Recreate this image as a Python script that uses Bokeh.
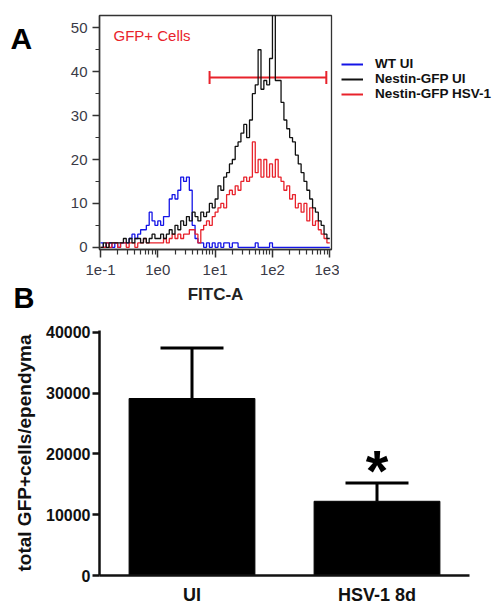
import numpy as np
from bokeh.plotting import figure
from bokeh.layouts import column, row
from bokeh.models import (FixedTicker, Legend, LegendItem, Label, Whisker, TeeHead,
                          ColumnDataSource, Range1d, FactorRange)
from bokeh.core.properties import value
from bokeh.embed import file_html
from bokeh.resources import INLINE

# ---------------- Panel A data: FITC-A histograms (log bins of 0.05 decade from 1e-1) ----------------
LOG_START = -1.0
BIN_WIDTH = 0.05
wt_ui = [1, 0, 1, 1, 0, 1, 0, 1, 1, 1, 2, 3, 2, 3, 4, 4, 5, 8, 6, 5,
         6, 5, 7, 7, 11, 12, 11, 13, 16, 15, 16, 13, 5, 2, 1, 1, 0, 1, 0, 1,
         0, 1, 0, 1, 1, 0, 1, 1, 0, 0, 0, 0, 0, 0, 1, 0, 0, 0, 0, 1,
         0, 0, 0, 0, 0, 0, 0, 0, 0, 0, 0, 0, 0, 0, 0, 0, 0, 0, 0, 0]
nestin_ui = [0, 1, 0, 1, 1, 1, 1, 1, 2, 1, 2, 1, 2, 2, 1, 2, 1, 2, 3, 2,
             2, 3, 2, 3, 4, 3, 5, 4, 6, 5, 7, 6, 8, 7, 6, 8, 7, 8, 10, 9,
             11, 14, 13, 16, 17, 19, 20, 23, 24, 26, 28, 25, 29, 35, 37, 45, 36, 38, 37, 43,
             53, 38, 38, 33, 29, 27, 25, 24, 21, 19, 17, 15, 13, 11, 9, 8, 6, 5, 3, 2]
nestin_hsv = [0, 0, 1, 0, 1, 1, 0, 1, 1, 0, 1, 1, 0, 1, 1, 2, 1, 1, 1, 1,
              1, 1, 2, 1, 2, 3, 2, 3, 2, 3, 3, 4, 4, 3, 1, 4, 5, 6, 5, 7,
              8, 9, 10, 9, 12, 13, 12, 14, 13, 15, 16, 15, 16, 24, 17, 20, 16, 20, 16, 19,
              16, 20, 16, 15, 13, 14, 11, 12, 9, 10, 8, 10, 6, 9, 5, 6, 4, 3, 2, 1]
series_names = ["WT UI", "Nestin-GFP UI", "Nestin-GFP HSV-1"]
series_colors = ["#1414e6", "#111111", "#e8222b"]
x_tick_values = [0.1, 1, 10, 100, 1000]
x_tick_labels = ["1e-1", "1e0", "1e1", "1e2", "1e3"]
y_tick_values_a = [0, 10, 20, 30, 40, 50]
gate_label = "GFP+ Cells"
gate_low, gate_high, gate_y = 8.0, 870.0, 38.7

# ---------------- Panel B data ----------------
groups = ["UI", "HSV-1 8d"]
gfp_cells = [29100, 12200]
gfp_err_top = [37400, 15200]
y_tick_values_b = [0, 10000, 20000, 30000, 40000]
star_y = 17200

FONT = "Liberation Sans"
AXIS_GRAY = "#3a3a46"
TOP_H = 315
BOTTOM_H = 612 - TOP_H


def blank(width, height):
    f = figure(width=width, height=height, output_backend="svg", toolbar_location=None,
               x_range=Range1d(0, 1), y_range=Range1d(0, 1), min_border=0,
               frame_align=False)
    f.axis.visible = False
    f.grid.visible = False
    f.outline_line_color = None
    return f


# ================= strip with panel letters =================
fa = blank(40, TOP_H)
fa.add_layout(Label(x=10, y=TOP_H - 38, x_units="screen", y_units="screen", text="A",
                    text_baseline="alphabetic", text_color="black", text_font=FONT,
                    text_font_size="30px", text_font_style="bold"))
fa.add_layout(Label(x=13, y=TOP_H - 297, x_units="screen", y_units="screen", text="B",
                    text_baseline="alphabetic", text_color="black", text_font=FONT,
                    text_font_size="29px", text_font_style="bold"))

# ================= Panel A =================
pa = figure(width=299, height=TOP_H, output_backend="svg", toolbar_location=None,
            x_axis_type="log", x_range=Range1d(10 ** -1.017, 10 ** 3.03),
            y_range=Range1d(-0.5, 52.8), frame_align=False,
            min_border_left=59, min_border_right=8, min_border_top=15,
            min_border_bottom=TOP_H - 249)
pa.xgrid.visible = False
pa.ygrid.visible = False
pa.outline_line_color = "#333333"
pa.outline_line_width = 1.3

n_bins = len(wt_ui)
edges = 10 ** (LOG_START + BIN_WIDTH * np.arange(n_bins + 1))
for vals, col in zip([wt_ui, nestin_hsv, nestin_ui], [series_colors[0], series_colors[2], series_colors[1]]):
    ys = list(vals) + [vals[-1]]
    pa.step(x=edges, y=ys, mode="after", line_color=col, line_width=1.3)

gate_src = ColumnDataSource(dict(base=[gate_y], lower=[gate_low], upper=[gate_high]))
pa.add_layout(Whisker(source=gate_src, base="base", lower="lower", upper="upper",
                      dimension="width", line_color=series_colors[2], line_width=2,
                      lower_head=TeeHead(size=13, line_color=series_colors[2], line_width=2),
                      upper_head=TeeHead(size=13, line_color=series_colors[2], line_width=2)))

pa.add_layout(Label(x=14, y=206, x_units="screen", y_units="screen", text=gate_label,
                    text_color=series_colors[2], text_font=FONT, text_font_size="15px"))

xa = pa.xaxis[0]
xa.ticker = FixedTicker(ticks=x_tick_values,
                        minor_ticks=[m * 10.0 ** d for d in range(-1, 3) for m in range(2, 10)])
xa.major_label_overrides = {v: l for v, l in zip(x_tick_values, x_tick_labels)}
xa.axis_label = "FITC-A"
xa.axis_label_text_font = FONT
xa.axis_label_text_font_style = "bold"
xa.axis_label_text_font_size = "17px"
xa.axis_label_text_color = "#222222"
xa.axis_label_standoff = 7
xa.major_label_text_font = FONT
xa.major_label_text_font_size = "15px"
xa.major_label_text_color = AXIS_GRAY
xa.major_label_standoff = 7
xa.major_tick_out = 8
xa.major_tick_in = 0
xa.minor_tick_out = 5
xa.minor_tick_in = 0
xa.axis_line_color = "#333333"
xa.major_tick_line_color = "#333333"
xa.minor_tick_line_color = "#333333"
xa.axis_line_width = 1.5
xa.major_tick_line_width = 1.5
xa.minor_tick_line_width = 1.2

ya = pa.yaxis[0]
ya.ticker = FixedTicker(ticks=y_tick_values_a, minor_ticks=[5, 15, 25, 35, 45])
ya.major_label_text_font = FONT
ya.major_label_text_font_size = "15px"
ya.major_label_text_color = AXIS_GRAY
ya.major_label_standoff = 5
ya.major_tick_out = 7
ya.major_tick_in = 0
ya.minor_tick_out = 4
ya.minor_tick_in = 0
ya.axis_line_color = "#333333"
ya.major_tick_line_color = "#333333"
ya.minor_tick_line_color = "#333333"
ya.axis_line_width = 1.5
ya.major_tick_line_width = 1.5
ya.minor_tick_line_width = 1.2

# ================= legend strip =================
fl = blank(157, TOP_H)
leg_items = []
for name, col in zip(series_names, series_colors):
    r = fl.line(x=[np.nan, np.nan], y=[np.nan, np.nan], line_color=col, line_width=2)
    leg_items.append(LegendItem(label=name, renderers=[r]))
legend = Legend(items=leg_items, location=(2, TOP_H - 101), orientation="vertical",
                label_text_font=FONT, label_text_font_style="bold",
                label_text_font_size="13.5px", label_text_color="#111111",
                label_height=14, glyph_height=14, glyph_width=22, label_standoff=12,
                spacing=0, padding=0, margin=0,
                border_line_alpha=0, background_fill_alpha=0)
fl.add_layout(legend)

# ================= Panel B =================
pb = figure(width=496, height=BOTTOM_H, output_backend="svg", toolbar_location=None,
            x_range=FactorRange(factors=groups, range_padding=0),
            y_range=Range1d(0, 40280), frame_align=False,
            min_border_left=99, min_border_right=27, min_border_top=330 - TOP_H,
            min_border_bottom=37)
pb.xgrid.visible = False
pb.ygrid.visible = False
pb.outline_line_color = None

src_b = ColumnDataSource(dict(g=groups, v=gfp_cells, hi=gfp_err_top))
pb.vbar(x="g", top="v", width=0.68, source=src_b, fill_color="black", line_color="black")
pb.add_layout(Whisker(source=src_b, base="g", lower="v", upper="hi", dimension="height",
                      line_color="black", line_width=3, lower_head=None,
                      upper_head=TeeHead(size=63, line_color="black", line_width=3)))
pb.text(x=[groups[1]], y=[star_y], text=["*"], text_align="center", text_baseline="alphabetic",
        text_font=value(FONT), text_font_style="bold", text_font_size="58px", text_color="black")

xb = pb.xaxis[0]
xb.major_tick_line_color = None
xb.minor_tick_line_color = None
xb.axis_line_width = 2.5
xb.axis_line_color = "#111111"
xb.major_label_text_font = FONT
xb.major_label_text_font_style = "bold"
xb.major_label_text_font_size = "18px"
xb.major_label_text_color = "#111111"
xb.major_label_standoff = 3

yb = pb.yaxis[0]
yb.ticker = FixedTicker(ticks=y_tick_values_b)
yb.minor_tick_line_color = None
yb.major_tick_out = 7
yb.major_tick_in = 0
yb.major_tick_line_width = 2.5
yb.axis_line_width = 2.5
yb.axis_line_color = "#111111"
yb.major_tick_line_color = "#111111"
yb.major_label_text_font = FONT
yb.major_label_text_font_style = "bold"
yb.major_label_text_font_size = "16px"
yb.major_label_text_color = "#111111"
yb.major_label_standoff = 2
yb.axis_label = "total GFP+cells/ependyma"
yb.axis_label_text_font = FONT
yb.axis_label_text_font_style = "bold"
yb.axis_label_text_font_size = "19px"
yb.axis_label_text_color = "#111111"
yb.axis_label_standoff = 8

layout = column(row(fa, pa, fl, spacing=0), pb, spacing=0)
open("out.html", "w").write(file_html(layout, INLINE))
